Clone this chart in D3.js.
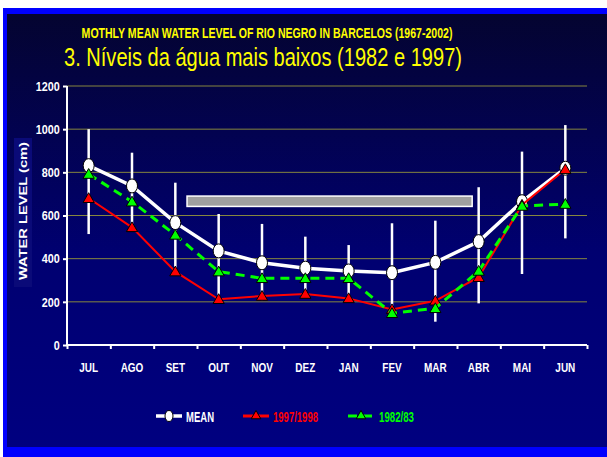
<!doctype html>
<html>
<head>
<meta charset="UTF-8" />
<title>Rio Negro water level</title>
<script src="https://d3js.org/d3.v7.min.js"></script>
<style type="text/css">
body {
	margin: 0;
	background: #fff;
}

.narrow {
	font-family: "Liberation Sans", Arial, sans-serif;
	font-weight: bold;
}

.axis path, .axis line {
	stroke: #fff;
	stroke-width: 2px;
}

.axis text {
	fill: #fff;
	font-family: "Liberation Sans", Arial, sans-serif;
	font-weight: bold;
}

.grid line {
	stroke: #86863e;
	stroke-width: 1px;
}
</style>
</head>
<body>
<script>
	var months = ["JUL", "AGO", "SET", "OUT", "NOV", "DEZ", "JAN", "FEV", "MAR", "ABR", "MAI", "JUN"];

	var meanLevel  = [831, 737, 567, 436, 381, 356, 343, 335, 383, 479, 664, 819];
	var meanHigh   = [1000, 891, 752, 607, 561, 502, 463, 564, 576, 731, 896, 1019];
	var meanLow    = [514, 555, 345, 224, 208, 228, 218, 139, 108, 193, 329, 494];
	var level1997  = [680, 545, 340, 212, 227, 236, 216, 165, 205, 314, 649, 814];
	var level1982  = [792, 664, 510, 340, 309, 309, 309, 147, 170, 343, 644, 653];

	var yTicks = [0, 200, 400, 600, 800, 1000, 1200];

	// grey bar annotation (in month index units / cm)
	var barRange = [2.77, 9.35];
	var barLevel = [642, 690];

	var width = 607, height = 457;

	var svg = d3.select("body").append("svg")
		.attr("width", width)
		.attr("height", height);

	var defs = svg.append("defs");
	var grad = defs.append("linearGradient")
		.attr("id", "bg")
		.attr("x1", 0).attr("y1", 0)
		.attr("x2", 0).attr("y2", 1);
	grad.append("stop").attr("offset", "0%").attr("stop-color", "#040430");
	grad.append("stop").attr("offset", "55%").attr("stop-color", "#000070");
	grad.append("stop").attr("offset", "100%").attr("stop-color", "#000080");

	// frame
	svg.append("rect")
		.attr("x", 3).attr("y", 8)
		.attr("width", width - 3).attr("height", height - 8)
		.attr("fill", "#0000ff");
	svg.append("rect")
		.attr("x", 7).attr("y", 14)
		.attr("width", width - 7).attr("height", 433)
		.attr("fill", "url(#bg)");

	// titles
	svg.append("text")
		.attr("class", "narrow")
		.attr("transform", "translate(267,38) scale(0.68,1)")
		.attr("text-anchor", "middle")
		.attr("fill", "#ffff00")
		.style("font-size", "15.5px")
		.text("MOTHLY MEAN WATER LEVEL OF RIO NEGRO IN BARCELOS (1967-2002)");

	svg.append("text")
		.attr("x", 263).attr("y", 66)
		.attr("text-anchor", "middle")
		.attr("fill", "#ffff00")
		.style("font-family", "'Liberation Sans', Arial, sans-serif")
		.style("font-size", "25px")
		.attr("textLength", 398)
		.attr("lengthAdjust", "spacingAndGlyphs")
		.text("3. Níveis da água mais baixos (1982 e 1997)");

	var x = d3.scaleLinear().domain([0, 12]).range([67, 587]);
	var xBand = d3.scaleBand().domain(months).range([67, 587]);
	var y = d3.scaleLinear().domain([0, 1200]).range([345, 86]);

	// grid
	svg.append("g")
		.attr("class", "grid")
		.selectAll("line")
		.data(yTicks.filter(function(d) { return d > 0; }))
		.join("line")
		.attr("x1", x(0)).attr("x2", x(12))
		.attr("y1", function(d) { return y(d); })
		.attr("y2", function(d) { return y(d); });

	// y label with its box
	svg.append("rect")
		.attr("x", 14).attr("y", 138)
		.attr("width", 18).attr("height", 149)
		.attr("fill", "#0a0a78");
	svg.append("text")
		.attr("transform", "translate(27,211) rotate(-90)")
		.attr("text-anchor", "middle")
		.attr("fill", "#fff")
		.style("font-family", "'Liberation Sans', Arial, sans-serif")
		.style("font-weight", "bold")
		.style("font-size", "11.5px")
		.attr("textLength", 138)
		.attr("lengthAdjust", "spacingAndGlyphs")
		.text("WATER LEVEL (cm)");

	// axes
	var yAxis = d3.axisLeft(y).tickValues(yTicks).tickSize(4).tickPadding(5).tickFormat(d3.format("d"));
	svg.append("g")
		.attr("class", "axis")
		.attr("transform", "translate(" + x(0) + ",0)")
		.call(yAxis)
		.call(function(g) {
			g.select(".domain").attr("d", "M0," + y(1200) + "V" + y(0));
			g.selectAll("text")
				.style("font-size", "13.5px")
				.attr("transform", "scale(0.8,1)");
		});

	svg.append("g")
		.attr("class", "axis")
		.attr("transform", "translate(0," + y(0) + ")")
		.call(d3.axisBottom(x).tickValues(d3.range(13)).tickSize(4).tickFormat(""))
		.call(function(g) { g.select(".domain").attr("d", "M" + x(0) + ",0H" + x(12)); });

	svg.append("g")
		.attr("class", "axis")
		.attr("transform", "translate(0," + y(0) + ")")
		.call(d3.axisBottom(xBand).tickSize(0).tickPadding(17))
		.call(function(g) {
			g.select(".domain").remove();
			g.selectAll("text")
				.style("font-size", "13.5px")
				.attr("transform", "scale(0.74,1)");
		});

	// grey bar
	svg.append("rect")
		.attr("x", x(barRange[0]))
		.attr("y", y(barLevel[1]))
		.attr("width", x(barRange[1]) - x(barRange[0]))
		.attr("height", y(barLevel[0]) - y(barLevel[1]))
		.attr("fill", "#a0a0a0")
		.attr("stroke", "#fff")
		.attr("stroke-width", 1.5);

	var cx = function(d, i) { return x(i + 0.5); };

	// error bars
	svg.append("g")
		.selectAll("line")
		.data(months)
		.join("line")
		.attr("x1", cx).attr("x2", cx)
		.attr("y1", function(d, i) { return y(meanHigh[i]); })
		.attr("y2", function(d, i) { return y(meanLow[i]); })
		.attr("stroke", "#fff")
		.attr("stroke-width", 2.5);

	var line = d3.line()
		.x(function(d, i) { return x(i + 0.5); })
		.y(function(d) { return y(d); });

	function triangle(g, data, color) {
		g.selectAll("path.tri")
			.data(data)
			.join("path")
			.attr("class", "tri")
			.attr("d", d3.symbol(d3.symbolTriangle, 55))
			.attr("transform", function(d, i) { return "translate(" + x(i + 0.5) + "," + (y(d) + 1) + ")"; })
			.attr("fill", color)
			.attr("stroke", "#000")
			.attr("stroke-width", 1);
	}

	// mean
	var gMean = svg.append("g");
	gMean.append("path")
		.datum(meanLevel)
		.attr("d", line)
		.attr("fill", "none")
		.attr("stroke", "#fff")
		.attr("stroke-width", 3.5);
	gMean.selectAll("ellipse")
		.data(meanLevel)
		.join("ellipse")
		.attr("cx", cx)
		.attr("cy", function(d) { return y(d); })
		.attr("rx", 5.5).attr("ry", 7)
		.attr("fill", "#fff")
		.attr("stroke", "#000")
		.attr("stroke-width", 1);

	// 1997/1998
	var gRed = svg.append("g");
	gRed.append("path")
		.datum(level1997)
		.attr("d", line)
		.attr("fill", "none")
		.attr("stroke", "#ff0000")
		.attr("stroke-width", 2);
	triangle(gRed, level1997, "#ff0000");

	// 1982/83
	var gGreen = svg.append("g");
	gGreen.append("path")
		.datum(level1982)
		.attr("d", line)
		.attr("fill", "none")
		.attr("stroke", "#00ff00")
		.attr("stroke-width", 3)
		.attr("stroke-dasharray", "9,6");
	triangle(gGreen, level1982, "#00ff00");

	// legend
	var legend = [
		{name: "MEAN", color: "#fff", x0: 156, w: 28},
		{name: "1997/1998", color: "#ff0000", x0: 243, w: 45},
		{name: "1982/83", color: "#00ff00", x0: 348, w: 35}
	];
	var ly = 416;
	var lg = svg.append("g").selectAll("g")
		.data(legend)
		.join("g")
		.attr("transform", function(d) { return "translate(" + d.x0 + "," + ly + ")"; });
	lg.append("line")
		.attr("x1", 0).attr("x2", 26)
		.attr("stroke", function(d) { return d.color; })
		.attr("stroke-width", function(d, i) { return i == 0 ? 3.5 : 3; })
		.attr("stroke-dasharray", function(d, i) { return i == 2 ? "9,6" : null; });
	lg.each(function(d, i) {
		var g = d3.select(this);
		if (i == 0) {
			g.append("ellipse").attr("cx", 13).attr("rx", 4).attr("ry", 5.5)
				.attr("fill", "#fff").attr("stroke", "#000");
		} else {
			g.append("path").attr("d", d3.symbol(d3.symbolTriangle, 40))
				.attr("transform", "translate(13,0)")
				.attr("fill", d.color).attr("stroke", "#000");
		}
	});
	lg.append("text")
		.attr("class", "narrow")
		.attr("x", function(d, i) { return i == 2 ? 31 : 30; })
		.attr("y", 5.5)
		.attr("fill", function(d) { return d.color; })
		.style("font-size", "15.5px")
		.attr("textLength", function(d) { return d.w; })
		.attr("lengthAdjust", "spacingAndGlyphs")
		.text(function(d) { return d.name; });
</script>
</body>
</html>
